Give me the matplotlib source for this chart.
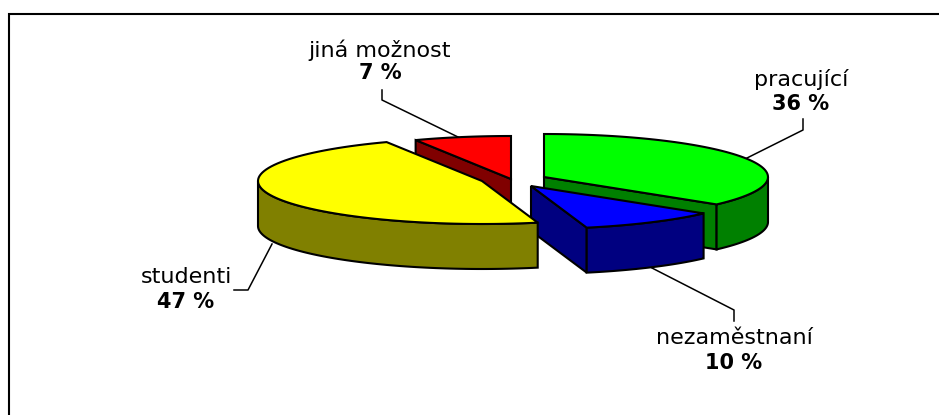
import numpy as np
import matplotlib
matplotlib.use("Agg")
import matplotlib.pyplot as plt
from matplotlib.patches import Polygon

W, H = 939, 415
categories = ["pracující", "nezaměstnaní", "studenti", "jiná možnost"]
values = [36, 10, 47, 7]
top_colors = ["#00ff00", "#0000ff", "#ffff00", "#ff0000"]
side_colors = ["#008000", "#000080", "#808000", "#800000"]
# exploded wedge apex of each slice, in picture pixels
apex_x = [544, 531, 482, 511]
apex_y = [177, 186, 181, 179]
label_x = [801, 734, 186, 380]
label_y = [79, 338, 277, 50]
value_y = [104, 363, 302, 73]
leader_x = [[803, 803, 747], [734, 734, 652], [234, 248, 272], [382, 382, 458]]
leader_y = [[119, 130, 158], [321, 310, 268], [290, 290, 244], [90, 100, 137]]
RX, RY, DEPTH = 224, 43, 45

plt.rcParams["font.family"] = ["DejaVu Sans"]
fig = plt.figure(figsize=(W / 100, H / 100), dpi=100)
ax = fig.add_axes([0, 0, 1, 1])
ax.set_xlim(0, W)
ax.set_ylim(H, 0)
ax.axis("off")

# frame: left and top rules only are in the picture
ax.plot([9, 9, W], [H, 14.3, 14.3], color="black", lw=1.5, solid_joinstyle="miter")

edges = np.concatenate([[0], np.cumsum(values)]) / sum(values) * 2 * np.pi


def rim(i, a0, a1, n=80):
    t = np.linspace(a0, a1, n)
    return apex_x[i] + RX * np.sin(t), apex_y[i] - RY * np.cos(t)


def side(i, xs, ys, z):
    pts = list(zip(xs, ys)) + list(zip(xs[::-1], (ys + DEPTH)[::-1]))
    ax.add_patch(Polygon(pts, closed=True, fc=side_colors[i], ec="black", lw=1.5, zorder=z))


def slice3d(i, z):
    a0, a1 = edges[i], edges[i + 1]
    # cut walls that face the viewer
    for a, visible in ((a0, np.sin(a0) < -1e-9), (a1, np.sin(a1) > 1e-9)):
        if visible:
            xr, yr = rim(i, a, a, 2)
            side(i, np.array([apex_x[i], xr[0]]), np.array([apex_y[i], yr[0]]), z)
    # outer wall: front half of the rim only
    lo, hi = max(a0, np.pi / 2), min(a1, 3 * np.pi / 2)
    if lo < hi:
        xs, ys = rim(i, lo, hi)
        side(i, xs, ys, z + 0.1)
    xs, ys = rim(i, a0, a1)
    pts = [(apex_x[i], apex_y[i])] + list(zip(xs, ys))
    ax.add_patch(Polygon(pts, closed=True, fc=top_colors[i], ec="black", lw=1.5, zorder=z + 0.5))


for z, i in enumerate([3, 0, 1, 2]):
    slice3d(i, z + 2)

for i, cat in enumerate(categories):
    ax.plot(leader_x[i], leader_y[i], color="black", lw=1.1, zorder=10)
    ax.text(label_x[i], label_y[i], cat, ha="center", va="center", fontsize=16, color="black", zorder=11)
    ax.text(label_x[i], value_y[i], f"{values[i]} %", ha="center", va="center",
            fontsize=15, fontweight="bold", color="black", zorder=11)

fig.savefig("out.png", dpi=100)
